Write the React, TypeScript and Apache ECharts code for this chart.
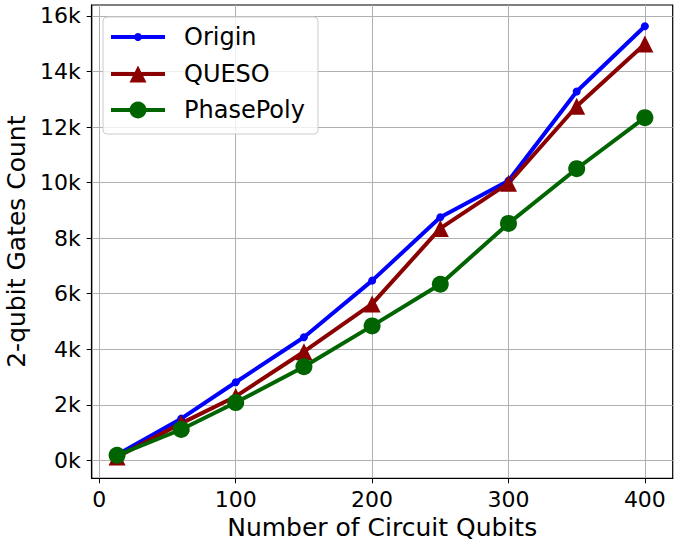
import React, { useEffect, useRef } from "react";
import * as echarts from "echarts";

const xValues = [13, 60, 100, 150, 200, 250, 300, 350, 400];
const origin = [200, 1500, 2810, 4430, 6470, 8750, 10070, 13280, 15630];
const queso = [120, 1330, 2300, 3910, 5630, 8350, 9980, 12750, 14990];
const phasePoly = [180, 1110, 2080, 3370, 4840, 6340, 8530, 10500, 12340];
const xTicks = [0, 100, 200, 300, 400];
const yTicks = [0, 2000, 4000, 6000, 8000, 10000, 12000, 14000, 16000];
const seriesNames = ["Origin", "QUESO", "PhasePoly"];
const colors = ["#0000ff", "#8b0000", "#006400"];

const FONT = "DejaVu Sans";

export default function App() {
  const ref = useRef<HTMLDivElement>(null);
  useEffect(() => {
    document.body.style.margin = "0";
    if (!ref.current) return;
    const chart = echarts.init(ref.current, undefined, { renderer: "svg" });
    const pair = (ys: number[]) => xValues.map((x, i) => [x, ys[i]]);
    const lx0 = 111, lx1 = 165, lmx = 138;
    const rows = [37, 74, 110];
    chart.setOption({
      animation: false,
      textStyle: { fontFamily: FONT },
      grid: {
        left: 91.7, right: 3.3, top: 5, bottom: 67.7,
        containLabel: false, outerBoundsMode: "none",
        show: true, borderColor: "#000", borderWidth: 1.2,
      },
      xAxis: {
        type: "value",
        min: -5.6, max: 420.4,
        name: "Number of Circuit Qubits",
        nameLocation: "middle",
        nameGap: 36,
        nameTextStyle: { fontSize: 25, color: "#000", fontFamily: FONT },
        axisLine: { show: true, onZero: false, lineStyle: { color: "#000", width: 1.2 } },
        axisTick: { show: true, inside: false, length: 5, lineStyle: { color: "#000" }, customValues: xTicks },
        axisLabel: { fontSize: 22, color: "#000", margin: 10, fontFamily: FONT, customValues: xTicks },
        splitLine: { show: true, lineStyle: { color: "#b0b0b0", width: 1 } },
      },
      yAxis: {
        type: "value",
        min: -648, max: 16396,
        name: "2-qubit Gates Count",
        nameLocation: "middle",
        nameRotate: 90,
        nameGap: 62,
        nameTextStyle: { fontSize: 25, color: "#000", fontFamily: FONT },
        axisLine: { show: true, onZero: false, lineStyle: { color: "#000", width: 1.2 } },
        axisTick: { show: true, inside: false, length: 5, lineStyle: { color: "#000" }, customValues: yTicks },
        axisLabel: {
          fontSize: 22, color: "#000", margin: 11, fontFamily: FONT, customValues: yTicks,
          formatter: (v: number) => `${Math.round(v / 1000)}k`,
        },
        splitLine: { show: true, lineStyle: { color: "#b0b0b0", width: 1 } },
      },
      series: [
        {
          name: seriesNames[0], type: "line", data: pair(origin),
          symbol: "circle", symbolSize: 8,
          lineStyle: { color: colors[0], width: 4 }, itemStyle: { color: colors[0] },
        },
        {
          name: seriesNames[1], type: "line", data: pair(queso),
          symbol: "triangle", symbolSize: 17,
          lineStyle: { color: colors[1], width: 4 }, itemStyle: { color: colors[1] },
        },
        {
          name: seriesNames[2], type: "line", data: pair(phasePoly),
          symbol: "circle", symbolSize: 17,
          lineStyle: { color: colors[2], width: 4 }, itemStyle: { color: colors[2] },
        },
      ],
      graphic: [
        {
          type: "rect", z: 100,
          shape: { x: 103, y: 17, width: 215, height: 117, r: 4 },
          style: { fill: "rgba(255,255,255,0.8)", stroke: "#cccccc", lineWidth: 1 },
        },
        ...rows.flatMap((y, i) => [
          {
            type: "line", z: 101,
            shape: { x1: lx0, y1: y, x2: lx1, y2: y },
            style: { stroke: colors[i], lineWidth: 4 },
          },
          i === 1
            ? {
                type: "polygon", z: 102,
                shape: { points: [[lmx, y - 8.5], [lmx - 8.5, y + 8.5], [lmx + 8.5, y + 8.5]] },
                style: { fill: colors[i] },
              }
            : {
                type: "circle", z: 102,
                shape: { cx: lmx, cy: y, r: i === 0 ? 4 : 8.5 },
                style: { fill: colors[i] },
              },
          {
            type: "text", z: 102, x: 184, y,
            style: {
              text: seriesNames[i], fill: "#000", fontSize: 24, fontFamily: FONT,
              verticalAlign: "middle", align: "left",
            },
          },
        ]),
      ],
    });
    return () => chart.dispose();
  }, []);
  return <div ref={ref} style={{ width: 676, height: 546 }} />;
}
